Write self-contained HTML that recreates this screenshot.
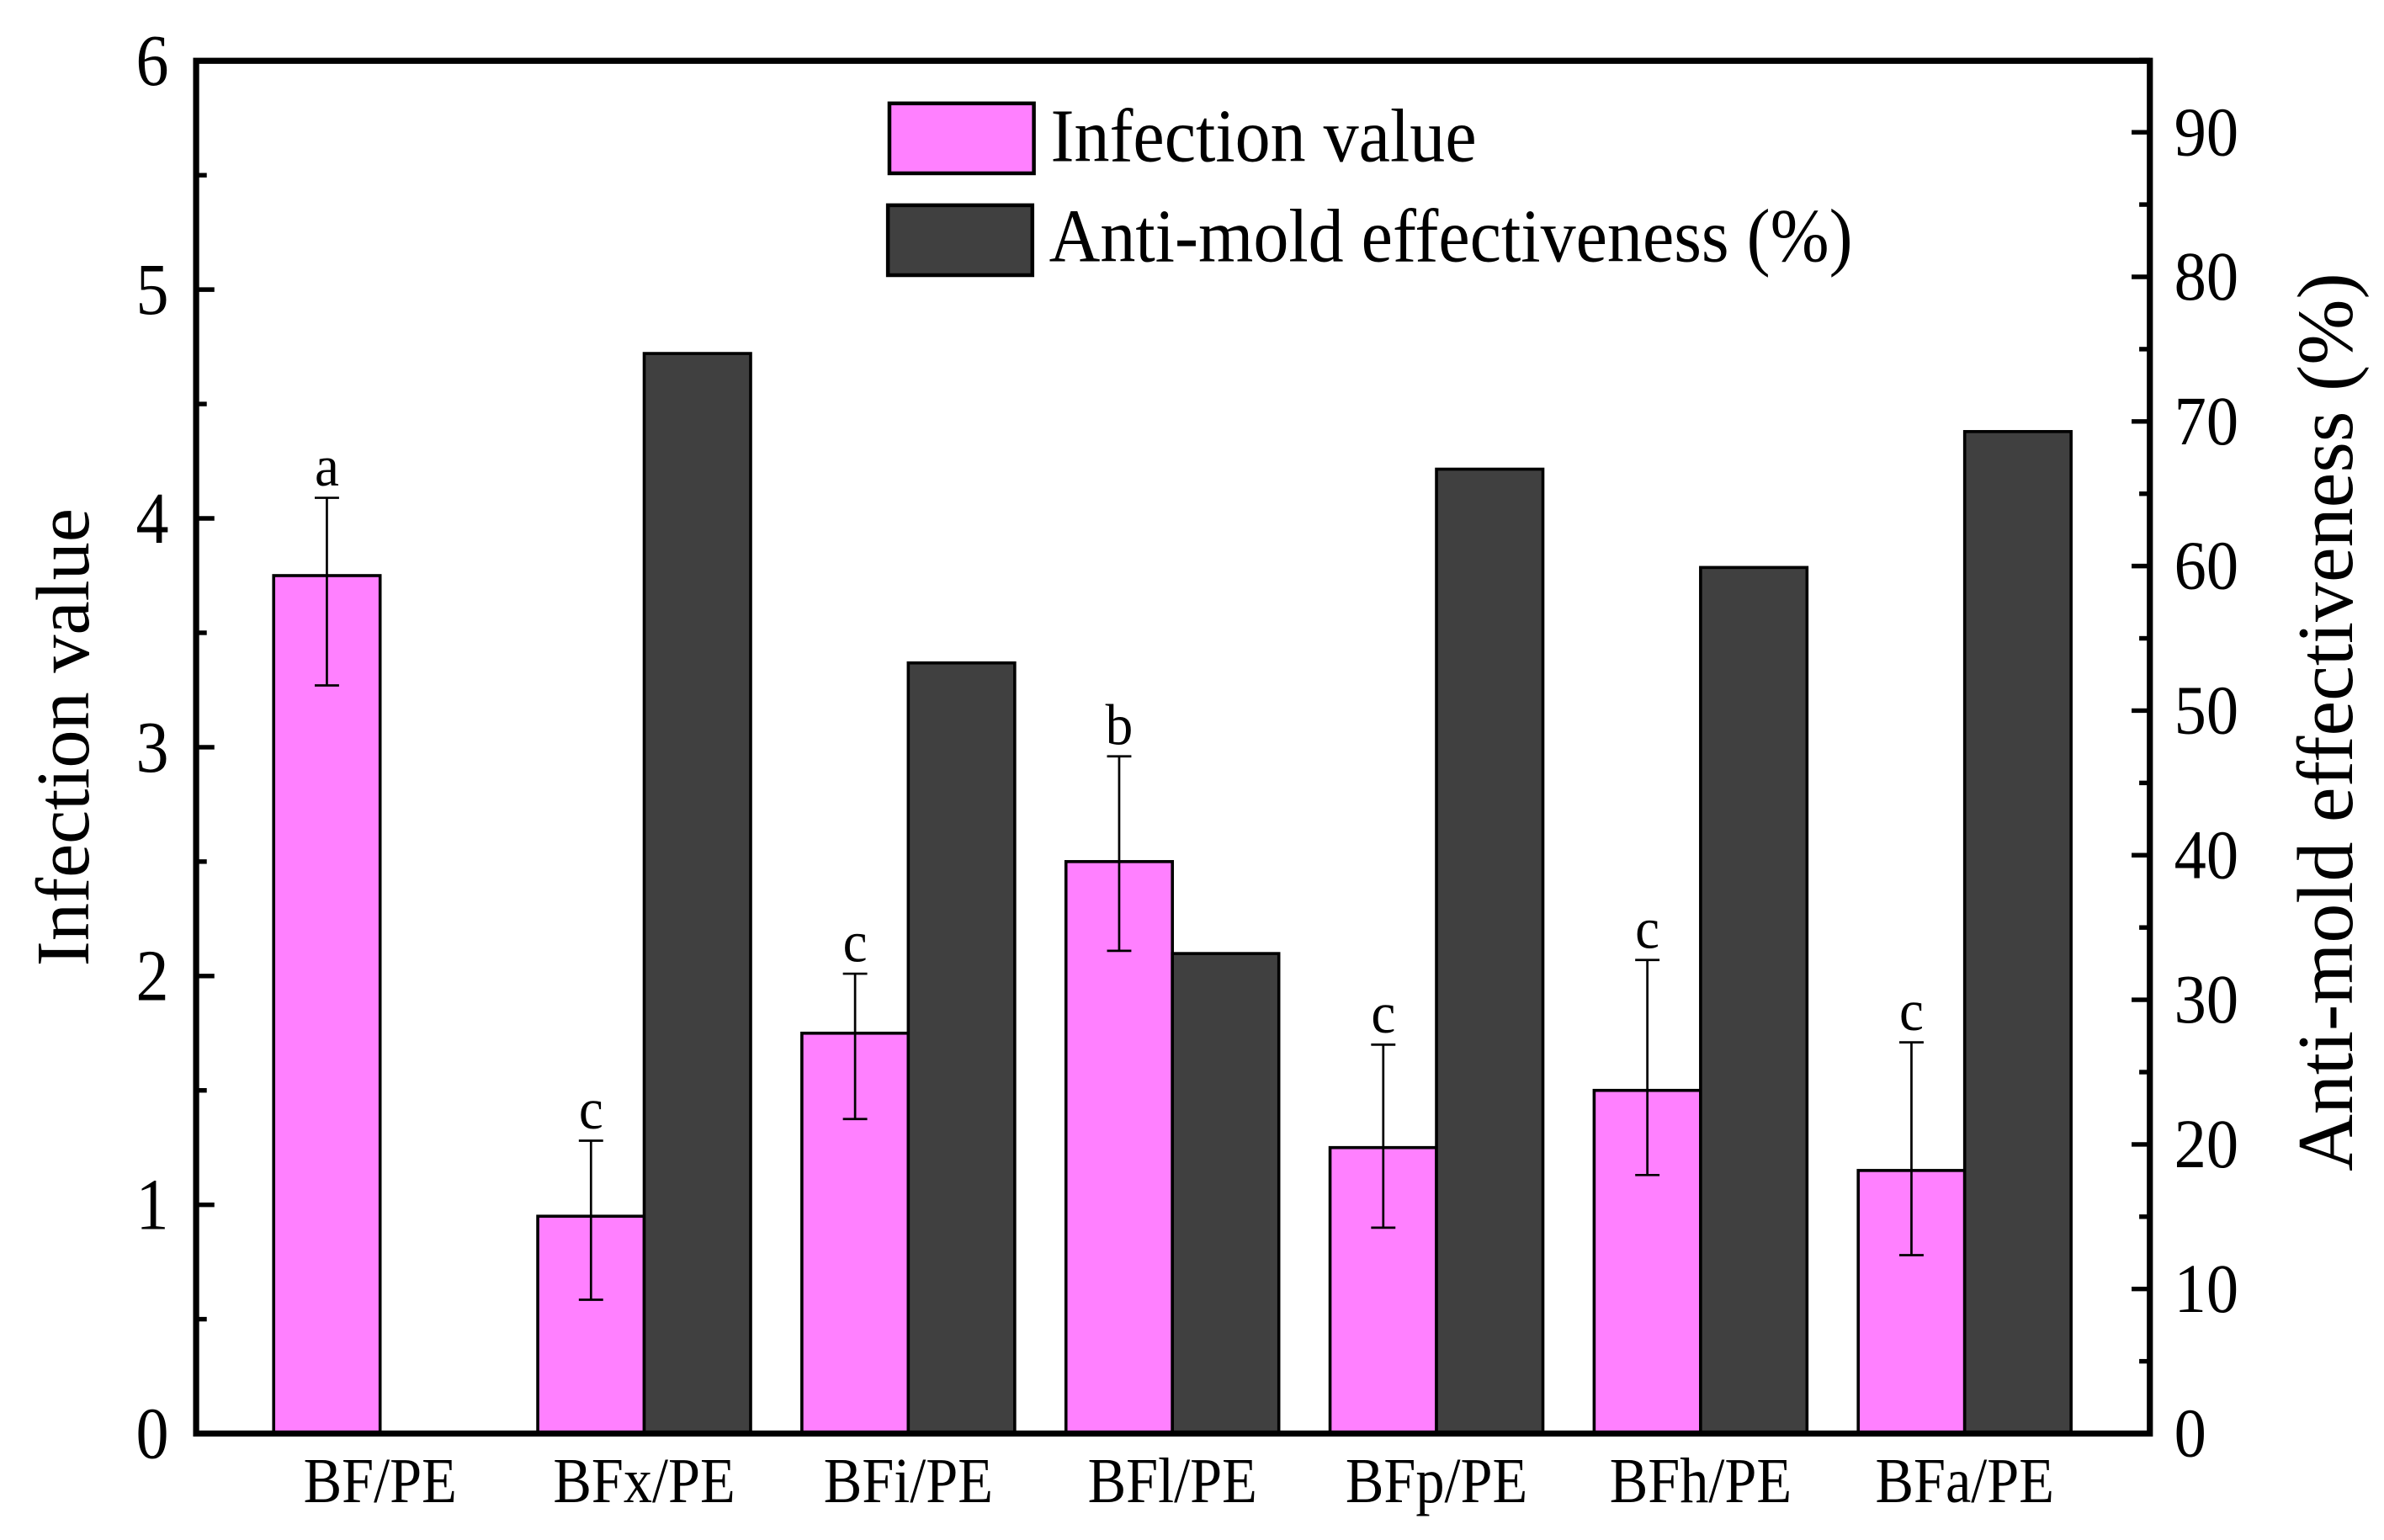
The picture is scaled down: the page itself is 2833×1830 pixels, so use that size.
<!DOCTYPE html>
<html><head><meta charset="utf-8"><style>
html,body{margin:0;padding:0;background:#fff;}
svg{display:block;}
text{font-family:"Liberation Serif",serif;fill:#000;}
</style></head><body>
<svg id="chart" width="2833" height="1830" viewBox="0 0 1568 1013" preserveAspectRatio="none" xmlns="http://www.w3.org/2000/svg">
<g id="plot"></g>
</svg>
<script>
const categories = ["BF/PE","BFx/PE","BFi/PE","BFl/PE","BFp/PE","BFh/PE","BFa/PE"];
const infectionValues = [3.75,0.95,1.75,2.5,1.25,1.5,1.15];
const infectionErrUp = [0.34,0.33,0.26,0.46,0.45,0.57,0.56];
const infectionErrDown = [0.48,0.365,0.375,0.39,0.35,0.37,0.37];
const sigLetters = ["a","c","c","b","c","c","c"];
const antiMoldValues = [0,74.7,53.3,33.2,66.7,59.9,69.3];
const leftTicks = [0,1,2,3,4,5,6];
const rightTicks = [0,10,20,30,40,50,60,70,80,90];

const NS="http://www.w3.org/2000/svg";
const g=document.getElementById('plot');
const L=129,R=1414,T=40,B=943;
const yL=v=>B-(B-T)*v/6;
const yR=v=>B-(B-87)*v/90;
const cx=i=>250+i*173.7;
const BW=70;
function mk(tag,attrs,parent){const e=document.createElementNS(NS,tag);for(const k in attrs)e.setAttribute(k,attrs[k]);(parent||g).appendChild(e);return e;}
function txt(str,x,y,size,anchor,sx,rot){
  const e=mk('text',{x:0,y:0,'text-anchor':anchor,'font-size':size,transform:`translate(${x},${y}) rotate(${rot||0}) scale(${sx||1},1)`});
  e.textContent=str;return e;
}

categories.forEach((c,i)=>{
  const p=mk('rect',{x:cx(i)-BW,y:yL(infectionValues[i]),width:BW,height:B-yL(infectionValues[i]),fill:'#ff80ff',stroke:'#000','stroke-width':2});
  
  
  if(antiMoldValues[i]>0){
    const d=mk('rect',{x:cx(i),y:yR(antiMoldValues[i]),width:BW,height:B-yR(antiMoldValues[i]),fill:'#404040',stroke:'#000','stroke-width':2});
    
    
  }
  const ex=cx(i)-BW/2, top=yL(infectionValues[i]+infectionErrUp[i]), bot=yL(infectionValues[i]-infectionErrDown[i]);
  const eb=mk('path',{d:`M${ex},${top}V${bot}M${ex-8},${top}H${ex+8}M${ex-8},${bot}H${ex+8}`,stroke:'#000','stroke-width':1.5,fill:'none'});
  
  
  const lt=txt(sigLetters[i],ex,top-8,38,'middle',0.95);
  
  
  const cl=txt(c,cx(i),988,42,'middle',0.9);
  
  
});

const fr=mk('path',{d:`M${L},${T}H${R}V${B}H${L}Z`,stroke:'#000','stroke-width':4,fill:'none'});



leftTicks.forEach(v=>{
  const t=mk('line',{x1:L,x2:L+12,y1:yL(v),y2:yL(v),stroke:'#000','stroke-width':3});
  
  
  if(v<6){const m=mk('line',{x1:L,x2:L+7,y1:yL(v+0.5),y2:yL(v+0.5),stroke:'#000','stroke-width':3});
  
  }
  const tx=txt(String(v),L-18,yL(v)+16,48,'end',0.9);
  
  
});
rightTicks.forEach(v=>{
  const t=mk('line',{x1:R-12,x2:R,y1:yR(v),y2:yR(v),stroke:'#000','stroke-width':3});
  
  
  const m=mk('line',{x1:R-7,x2:R,y1:yR(v+5),y2:yR(v+5),stroke:'#000','stroke-width':3});
  
  
  const tx=txt(String(v),R+16,yR(v)+15,46,'start',0.92);
  
  
});

const yt=txt('Infection value',58,485,50,'middle',1,-90);


const rt=txt('Anti-mold effectiveness (%)',1547,475,52,'middle',1,-90);



const l1=mk('rect',{x:585,y:68,width:95,height:46,fill:'#ff80ff',stroke:'#000','stroke-width':2.5});


const t1=txt('Infection value',691,106,50,'start',0.93);


const l2=mk('rect',{x:584,y:135,width:95,height:46,fill:'#404040',stroke:'#000','stroke-width':2.5});


const t2=txt('Anti-mold effectiveness (%)',690,172,50,'start',0.93);


</script>
</body></html>
